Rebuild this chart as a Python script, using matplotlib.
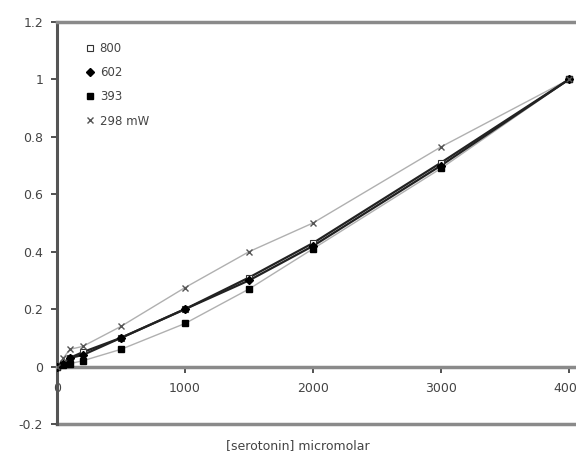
#
# Normalised signal against serotonin concentration for four laser powers
#

import matplotlib.pyplot as plt

plt.rcParams['font.family'] = ['DejaVu Sans']

conc = [0, 50, 100, 200, 500, 1000, 1500, 2000, 3000, 4000]
p800 = [0, 0.01, 0.03, 0.05, 0.10, 0.20, 0.31, 0.43, 0.71, 1.0]
p602 = [0, 0.01, 0.03, 0.04, 0.10, 0.20, 0.30, 0.42, 0.70, 1.0]
p393 = [0, 0.005, 0.01, 0.02, 0.06, 0.15, 0.27, 0.41, 0.69, 1.0]
p298 = [0, 0.03, 0.06, 0.07, 0.14, 0.275, 0.40, 0.50, 0.765, 1.0]

x_ticks = [0, 1000, 2000, 3000, 4000]
y_ticks = [-0.2, 0, 0.2, 0.4, 0.6, 0.8, 1.0, 1.2]
y_labels = ['-0.2', '0', '0.2', '0.4', '0.6', '0.8', '1', '1.2']


def make_plot():
    fig = plt.figure(figsize=(5.76, 4.59), dpi=100)
    ax = fig.add_axes([0.099, 0.0763, 0.911, 0.8758])

    # fitted curves (thin grey for the outer sets, heavy for the middle)
    ax.plot(conc, p298, color='#b0b0b0', lw=1.0, zorder=2)
    ax.plot(conc, p393, color='#b0b0b0', lw=1.0, zorder=2)
    ax.plot(conc, p800, color='#222222', lw=1.6, zorder=2)
    ax.plot(conc, p602, color='#222222', lw=1.6, zorder=2)

    ax.plot(conc, p800, ls='none', marker='s', ms=4, mfc='white',
            mec='#333333', mew=0.8, label='800', zorder=3)
    ax.plot(conc, p602, ls='none', marker='D', ms=4, color='black',
            label='602', zorder=3)
    ax.plot(conc, p393, ls='none', marker='s', ms=4.5, color='black',
            label='393', zorder=3)
    ax.plot(conc, p298, ls='none', marker='x', ms=5, mew=1.0,
            color='#555555', label='298 mW', zorder=3)

    ax.set_xlim(0, 4100)
    ax.set_ylim(-0.2, 1.2)

    # x axis sits on the zero line, frame closed at -0.2 and 1.2
    ax.spines['bottom'].set_position(('data', 0))
    ax.spines['bottom'].set_color('#8a8a8a')
    ax.spines['bottom'].set_linewidth(2.5)
    ax.spines['top'].set_color('#8a8a8a')
    ax.spines['top'].set_linewidth(2.5)
    ax.spines['left'].set_color('#555555')
    ax.spines['left'].set_linewidth(2.2)
    ax.spines['right'].set_visible(False)
    ax.axhline(-0.2, color='#8a8a8a', lw=2.5, clip_on=False, zorder=1)

    ax.set_xticks(x_ticks)
    ax.set_yticks(y_ticks)
    ax.set_yticklabels(y_labels)
    ax.tick_params(axis='both', direction='out', length=4, width=1.2,
                   color='#333333', labelsize=9, labelcolor='#444444')
    ax.tick_params(axis='x', pad=7)
    ax.tick_params(axis='y', pad=6)

    ax.legend(loc='upper left', bbox_to_anchor=(0.033, 0.977), frameon=False,
              fontsize=8.5, handlelength=0.8, handletextpad=0.45,
              labelspacing=0.95, labelcolor='#444444')

    fig.text(298 / 576, 1 - 446 / 459, '[serotonin] micromolar',
             ha='center', va='center', fontsize=9, color='#444444')

    plt.savefig('out.png', dpi=100)


if __name__ == '__main__':
    make_plot()
